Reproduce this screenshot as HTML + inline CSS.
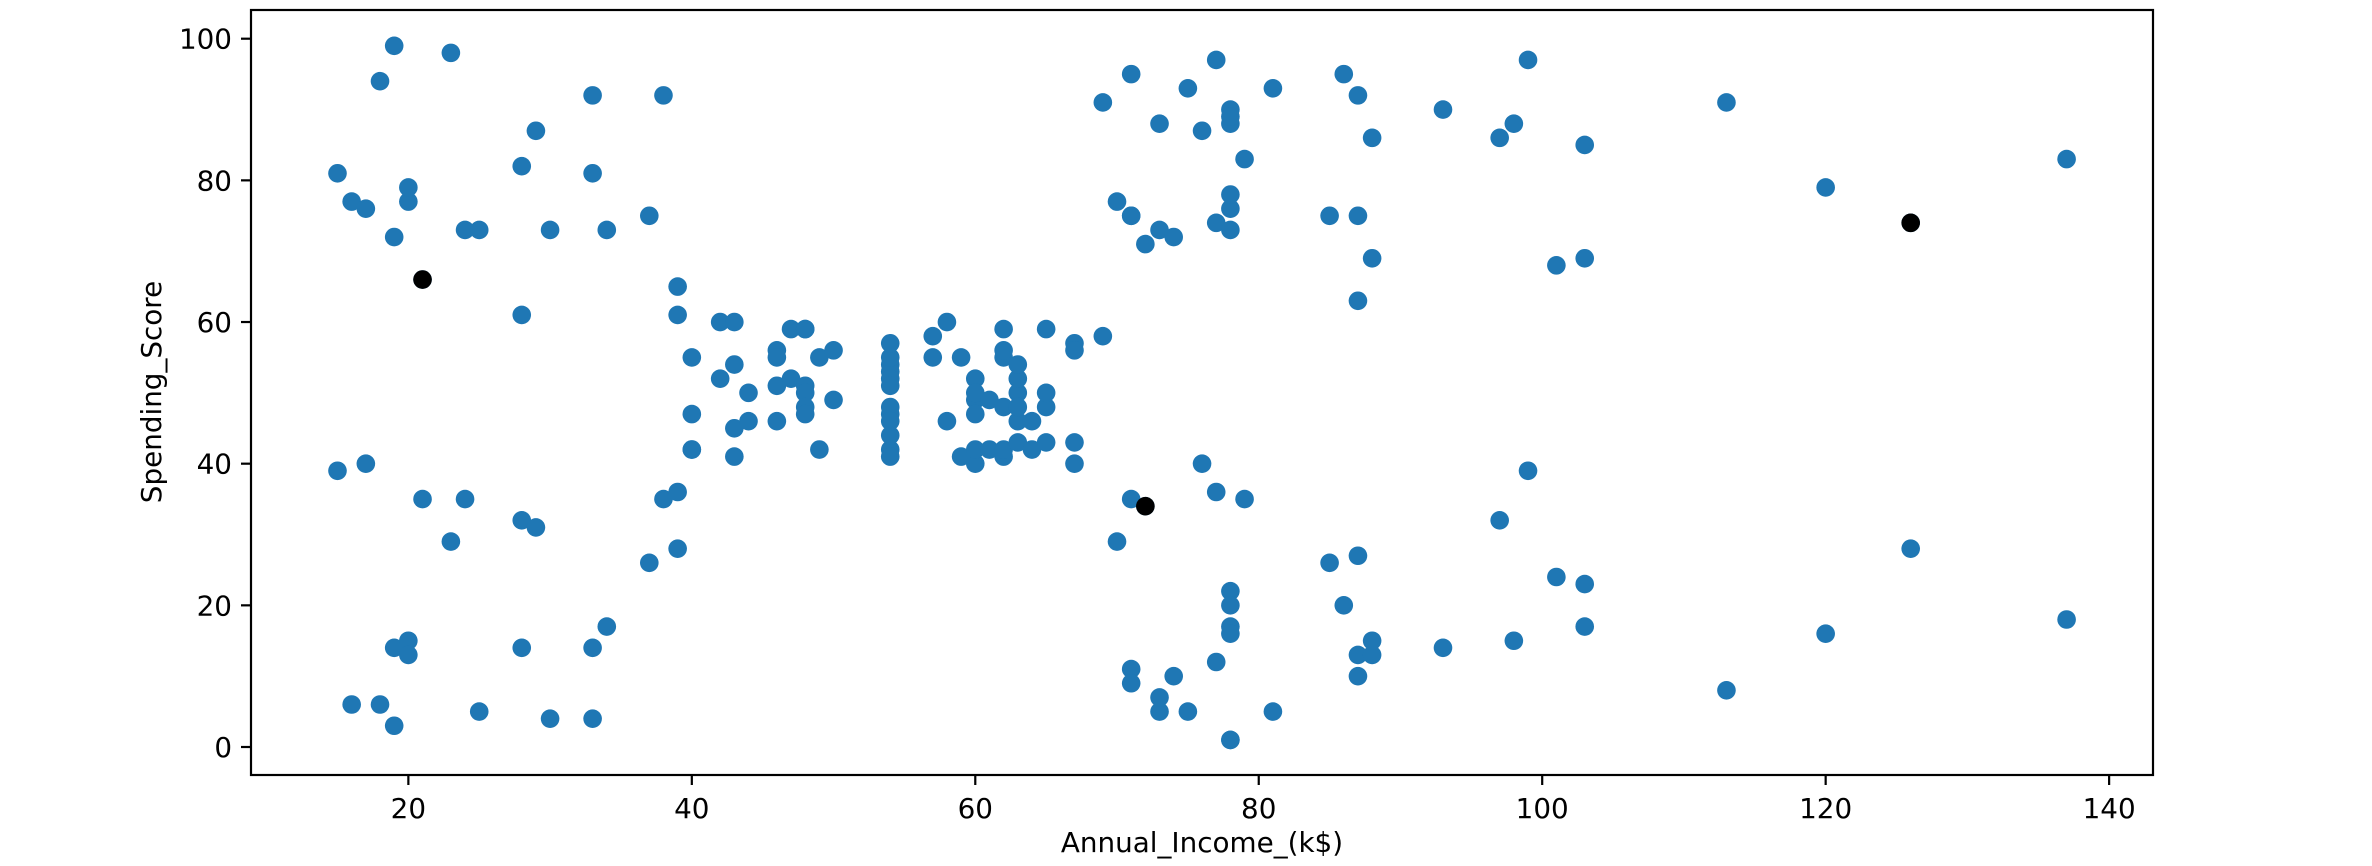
<!DOCTYPE html>
<html><head><meta charset="utf-8"><style>
html,body{margin:0;padding:0;background:#fff;}
svg{display:block;font-family:"DejaVu Sans","Liberation Sans",sans-serif;}
</style></head><body>
<svg id="s" width="2372" height="866" viewBox="0 0 2372 866" xmlns="http://www.w3.org/2000/svg">
<rect width="2372" height="866" fill="#fff"/>
<g id="pts"></g>
<rect x="251" y="10" width="1902" height="765" fill="none" stroke="#000" stroke-width="2.2"/>
<g id="ticks" stroke="#000" stroke-width="2.2"></g>
<g id="labs" font-size="27.8" fill="#000"></g>
<text x="1202" y="852" font-size="27.8" text-anchor="middle">Annual_Income_(k$)</text>
<text transform="translate(161,392) rotate(-90)" font-size="27.8" text-anchor="middle">Spending_Score</text>
</svg>
<script>
var d=[[15,39],[15,81],[16,6],[16,77],[17,40],[17,76],[18,6],[18,94],[19,3],[19,72],[19,14],[19,99],[20,15],[20,77],[20,13],[20,79],[21,35],[21,66],[23,29],[23,98],[24,35],[24,73],[25,5],[25,73],[28,14],[28,82],[28,32],[28,61],[29,31],[29,87],[30,4],[30,73],[33,4],[33,92],[33,14],[33,81],[34,17],[34,73],[37,26],[37,75],[38,35],[38,92],[39,36],[39,61],[39,28],[39,65],[40,55],[40,47],[40,42],[40,42],[42,52],[42,60],[43,54],[43,60],[43,45],[43,41],[44,50],[44,46],[46,51],[46,46],[46,56],[46,55],[47,52],[47,59],[48,51],[48,59],[48,50],[48,48],[48,59],[48,47],[49,55],[49,42],[50,49],[50,56],[54,47],[54,54],[54,53],[54,48],[54,52],[54,42],[54,51],[54,55],[54,41],[54,44],[54,57],[54,46],[57,58],[57,55],[58,60],[58,46],[59,55],[59,41],[60,49],[60,40],[60,42],[60,52],[60,47],[60,50],[61,42],[61,49],[62,41],[62,48],[62,59],[62,55],[62,56],[62,42],[63,50],[63,46],[63,43],[63,48],[63,52],[63,54],[64,42],[64,46],[65,48],[65,50],[65,43],[65,59],[67,43],[67,57],[67,56],[67,40],[69,58],[69,91],[70,29],[70,77],[71,35],[71,95],[71,11],[71,75],[71,9],[71,75],[72,34],[72,71],[73,5],[73,88],[73,7],[73,73],[74,10],[74,72],[75,5],[75,93],[76,40],[76,87],[77,12],[77,97],[77,36],[77,74],[78,22],[78,90],[78,17],[78,88],[78,20],[78,76],[78,16],[78,89],[78,1],[78,78],[78,1],[78,73],[79,35],[79,83],[81,5],[81,93],[85,26],[85,75],[86,20],[86,95],[87,27],[87,63],[87,13],[87,75],[87,10],[87,92],[88,13],[88,86],[88,15],[88,69],[93,14],[93,90],[97,32],[97,86],[98,15],[98,88],[99,39],[99,97],[101,24],[101,68],[103,17],[103,85],[103,23],[103,69],[113,8],[113,91],[120,16],[120,79],[126,28],[126,74],[137,18],[137,83]];
function X(v){return 124.9+v*14.173;}function Y(v){return 747-v*7.083;}
var ns="http://www.w3.org/2000/svg",g=document.getElementById('pts');
function c(x,y,col){var e=document.createElementNS(ns,'circle');e.setAttribute('cx',X(x));e.setAttribute('cy',Y(y));e.setAttribute('r',9.3);e.setAttribute('fill',col);g.appendChild(e);}
d.forEach(function(p){c(p[0],p[1],'#1f77b4');});
[[21,66],[72,34],[126,74]].forEach(function(p){c(p[0],p[1],'#000');});
var t=document.getElementById('ticks'),l=document.getElementById('labs');
function ln(x1,y1,x2,y2){var e=document.createElementNS(ns,'line');e.setAttribute('x1',x1);e.setAttribute('y1',y1);e.setAttribute('x2',x2);e.setAttribute('y2',y2);t.appendChild(e);}
function tx(x,y,s,a){var e=document.createElementNS(ns,'text');e.setAttribute('x',x);e.setAttribute('y',y);e.setAttribute('text-anchor',a);e.textContent=s;l.appendChild(e);}
for(var v=20;v<=140;v+=20){ln(X(v),775,X(v),785);tx(X(v),818,v,'middle');}
for(var v=0;v<=100;v+=20){ln(241,Y(v),251,Y(v));tx(232,Y(v)+10,v,'end');}
</script>
</body></html>
